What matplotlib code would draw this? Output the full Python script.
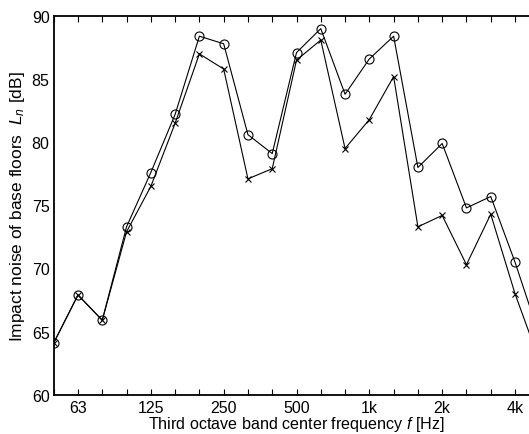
import matplotlib
matplotlib.use("Agg")
import matplotlib.pyplot as plt

plt.rcParams['font.family'] = ['Liberation Sans', 'DejaVu Sans']
plt.rcParams['mathtext.fontset'] = 'custom'
plt.rcParams['mathtext.it'] = 'Liberation Sans:italic'
plt.rcParams['mathtext.rm'] = 'Liberation Sans'

# Third-octave bands 50 Hz ... 5 kHz
bands = ["50", "63", "80", "100", "125", "160", "200", "250", "315", "400",
         "500", "630", "800", "1k", "1.25k", "1.6k", "2k", "2.5k", "3.15k", "4k", "5k"]
tick_labels = {1: "63", 4: "125", 7: "250", 10: "500", 13: "1k", 16: "2k", 19: "4k"}

ln_circle = [64.1, 67.9, 65.9, 73.3, 77.6, 82.2, 88.4, 87.8, 80.6, 79.1, 87.1,
             89.0, 83.8, 86.6, 88.4, 78.0, 79.9, 74.8, 75.7, 70.5, 64.7]
ln_cross = [64.1, 67.9, 65.9, 72.9, 76.5, 81.5, 87.0, 85.8, 77.1, 77.9, 86.5,
            88.1, 79.5, 81.8, 85.2, 73.3, 74.2, 70.3, 74.3, 68.0, 62.7]

fig = plt.figure(figsize=(5.29, 4.35), dpi=100)
W, H = 529, 435
left, right, top, bottom = 53.7, 539.3, 17.0, 395.7
ax = fig.add_axes([left / W, 1 - bottom / H, (right - left) / W, (bottom - top) / H])

idx = list(range(len(bands)))
ax.plot(idx, ln_circle, color='black', lw=0.8, marker='o', ms=6.5,
        mfc='none', mec='black', mew=0.8, clip_on=True)
ax.plot(idx, ln_cross, color='black', lw=0.8, marker='x', ms=4.5,
        mec='black', mew=0.8, clip_on=True)

ax.set_xlim(0, 20)
ax.set_ylim(60, 90)
ax.set_xticks(idx)
ax.set_xticklabels([tick_labels.get(i, "") for i in idx])
ax.set_yticks([60, 65, 70, 75, 80, 85, 90])
ax.tick_params(axis='x', direction='in', length=4, width=0.8, top=True,
               labelsize=11.5, pad=4)
ax.tick_params(axis='y', length=0, labelsize=11.5, pad=3)
for s in ['left', 'bottom', 'top']:
    ax.spines[s].set_linewidth(1.3)
ax.spines['right'].set_visible(False)

ax.set_xlabel(r"Third octave band center frequency $f$ [Hz]", fontsize=11.6, labelpad=-1)
ax.set_ylabel(r"Impact noise of base floors  $L_n$ [dB]", fontsize=12.5, labelpad=3)

fig.savefig("out.png", dpi=100)
